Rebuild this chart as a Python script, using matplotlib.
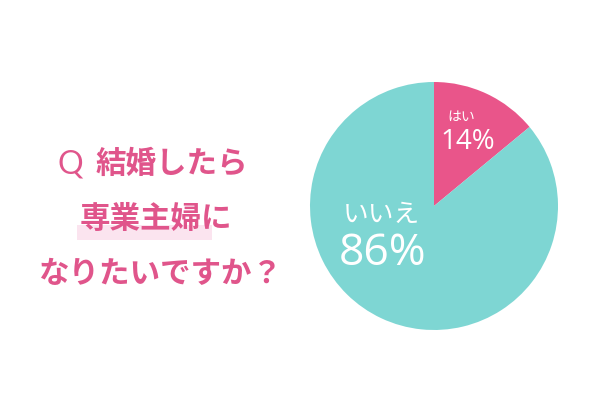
import matplotlib
matplotlib.use("Agg")
import matplotlib.pyplot as plt
from matplotlib.patches import Rectangle

plt.rcParams['font.family'] = ['Noto Sans CJK JP', 'DejaVu Sans']

# Data
categories = ["はい", "いいえ"]
values = [14, 86]
colors = ["#E9558A", "#7ED6D3"]
question_prefix = "Q"
question_lines = ["結婚したら", "専業主婦に", "なりたいですか？"]

W, H = 600, 420
fig = plt.figure(figsize=(W / 100, H / 100), dpi=100)
fig.patch.set_facecolor("white")

# Pie axes
cx, cy, r = 434, 206, 124
pie_ax = fig.add_axes([(cx - r) / W, (H - cy - r) / H, 2 * r / W, 2 * r / H])
pie_ax.pie(values, colors=colors, startangle=90, counterclock=False,
           wedgeprops=dict(linewidth=0))
pie_ax.set_xlim(-1, 1)
pie_ax.set_ylim(-1, 1)
pie_ax.set_aspect("equal")
pie_ax.axis("off")

# Overlay axes in pixel coords for text
bg = fig.add_axes([0, 0, 1, 1])
bg.set_xlim(0, W)
bg.set_ylim(H, 0)
bg.axis("off")
bg.patch.set_alpha(0)
bg.set_zorder(3)

text_color = "#E0558B"
# highlight band under second line
bg.add_patch(Rectangle((77, 225), 135, 15, color="#FBE4EF", zorder=0, lw=0))
bg.text(70, 165, question_prefix, ha="center", va="center", fontsize=23,
        color=text_color, family=["Lato", "DejaVu Sans"], fontweight="normal", zorder=2)
line_pos = [(172, 164), (156, 219), (161, 274)]
for (x, y), t in zip(line_pos, question_lines):
    bg.text(x, y, t, ha="center", va="center", fontsize=22, color=text_color,
            fontweight="bold", zorder=2)

# Labels
pct_font = ["Open Sans", "DejaVu Sans"]
bg.text(461, 117, categories[0], ha="center", va="center", fontsize=10, color="white")
bg.text(468, 142, f"{values[0]}%", ha="center", va="center", fontsize=20,
        color="white", family=pct_font)
bg.text(381, 215, categories[1], ha="center", va="center", fontsize=18.5, color="white")
bg.text(383, 254, f"{values[1]}%", ha="center", va="center", fontsize=32,
        color="white", family=pct_font)

fig.savefig("out.png", dpi=100, facecolor="white")
